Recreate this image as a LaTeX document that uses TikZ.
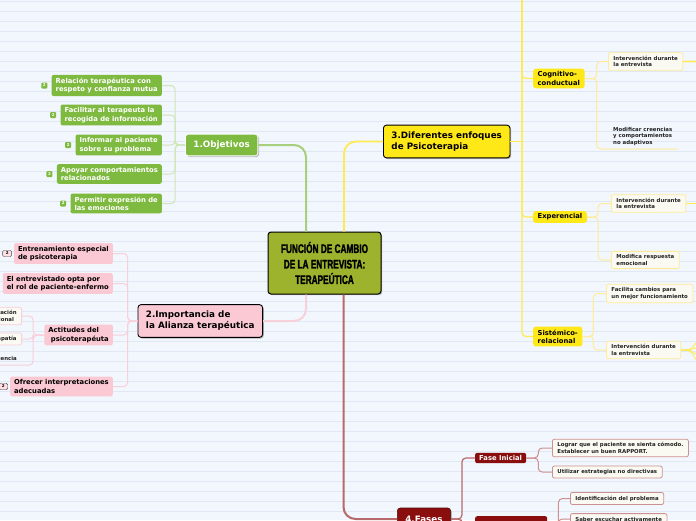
\documentclass[tikz,border=0pt]{standalone}
\usepackage{fontspec}
\setmainfont{DejaVu Sans}
\newfontfamily\rootfont[FakeStretch=0.66,FakeBold=1.6]{Liberation Sans}
\usetikzlibrary{positioning,shadows}
\definecolor{paper}{HTML}{F2F6FD}
\definecolor{ruling}{HTML}{E2E8F3}
\definecolor{rootcol}{HTML}{9DB32E}
\definecolor{grn}{HTML}{7EB940}
\definecolor{grnline}{HTML}{A7CF7C}
\definecolor{grnthin}{HTML}{CFE6B6}
\definecolor{pnk}{HTML}{FBC9D4}
\definecolor{pnkline}{HTML}{F8D0DA}
\definecolor{ylw}{HTML}{FFE817}
\definecolor{ylwline}{HTML}{FFEB50}
\definecolor{ylwthin}{HTML}{FFEC98}
\definecolor{red}{HTML}{8A0E0E}
\definecolor{redline}{HTML}{B86A6A}
\definecolor{redthin}{HTML}{CC9090}
\definecolor{leaffill}{HTML}{FAFAF3}
\definecolor{ink}{HTML}{222222}
\newcommand\fsz[2]{\fontsize{#1}{#2}\selectfont\bfseries}
\begin{document}
\begin{tikzpicture}[x=1pt,y=-1pt,
  every node/.style={inner sep=0pt},
  shade/.style={drop shadow={shadow xshift=1.2pt,shadow yshift=-1.2pt,opacity=0.45,fill=black!60}},
  rootbox/.style={draw=black,line width=1pt,fill=rootcol,rounded corners=3pt,align=center,
    minimum width=113pt,minimum height=62pt,font=\rootfont\fontsize{12.5}{15.5}\selectfont\bfseries,shade},
  topic/.style={rounded corners=3pt,align=left,inner xsep=8pt,inner ysep=6.6pt,font=\fsz{8.8}{11}},
  sub/.style={rounded corners=2pt,align=left,inner xsep=4pt,inner ysep=3pt,font=\fsz{6.8}{8.3}},
  leaf/.style={rounded corners=2pt,align=left,inner xsep=5pt,inner ysep=3.3pt,font=\fsz{5.4}{6.5},text=ink},
  gbadge/.style={fill=grn,rounded corners=1pt,text=white,font=\fsz{4}{4},minimum width=6pt,minimum height=6pt},
  pbadge/.style={fill=pnk!60!white,draw=black!70,line width=0.4pt,rounded corners=1.5pt,text=black,
    font=\fsz{4}{4},minimum width=9pt,minimum height=6.5pt},
  gmain/.style={grnline,line width=2pt,rounded corners=12pt},
  gthin/.style={grnthin,line width=1pt,rounded corners=4pt},
  pmain/.style={pnkline,line width=2pt,rounded corners=12pt},
  pthin/.style={pnkline,line width=1pt,rounded corners=4pt},
  ymain/.style={ylwline,line width=1.8pt,rounded corners=12pt},
  ymid/.style={ylwline,line width=1.2pt,rounded corners=4pt},
  ythin/.style={ylwthin,line width=1pt,rounded corners=4pt},
  rmain/.style={redline,line width=2pt,rounded corners=12pt},
  rthin/.style={redthin,line width=1pt,rounded corners=4pt}
]
\clip (0,0) rectangle (696,520);
\fill[paper] (0,0) rectangle (696,520);
\foreach \ly in {1.7,11.7,...,521.7}
  \draw[ruling,line width=0.6pt] (0,\ly) -- (696,\ly);

\node[rootbox] (root) at (324.5,263) {FUNCIÓN DE CAMBIO\\DE LA ENTREVISTA:\\TERAPEÚTICA};

\node[topic,fill=grn,text=white,draw=white,line width=0.8pt,shade,anchor=west] (obj) at (185,145) {1.Objetivos};
\node[sub,fill=grn,text=white,anchor=east] (c1) at (162,85.5) {Relación terapéutica con\\respeto y confianza mutua};
\node[sub,fill=grn,text=white,anchor=east] (c2) at (162,115) {Facilitar al terapeuta la\\recogida de información};
\node[sub,fill=grn,text=white,anchor=east] (c3) at (162,145) {Informar al paciente\\sobre su problema};
\node[sub,fill=grn,text=white,anchor=east] (c4) at (162,174) {Apoyar comportamientos\\relacionados};
\node[sub,fill=grn,text=white,anchor=east] (c5) at (162,203.5) {Permitir expresión de\\las emociones};
\foreach \c in {c1,c2,c3,c4,c5}
  \node[gbadge,left=4pt of \c] {2};

\node[topic,fill=pnk,draw=black,line width=0.9pt,shade,anchor=east] (ali) at (263,321) {2.Importancia de\\la Alianza terapéutica};
\node[sub,fill=pnk,anchor=east] (p1) at (113,253.5) {Entrenamiento especial\\de psicoterapia};
\node[sub,fill=pnk,anchor=east] (p2) at (113,283.5) {El entrevistado opta por\\el rol de paciente-enfermo};
\node[sub,fill=pnk,anchor=east] (p3) at (113,335) {Actitudes del\\\hspace{2.5pt}psicoterapéuta};
\node[sub,fill=pnk,anchor=east] (p4) at (113,386.5) {Ofrecer interpretaciones\\adecuadas};
\node[pbadge,left=2pt of p1] {2};
\node[pbadge,left=2pt of p4] {2};
\node[leaf,fill=leaffill,draw=pnkline,line width=0.8pt,anchor=east] (a1) at (22,316) {Consideración\\incondicional};
\node[leaf,fill=leaffill,draw=pnkline,line width=0.8pt,anchor=east] (a2) at (22,339) {Empatía};
\node[leaf,anchor=east] (a3) at (22,359) {Congruencia};

\node[topic,fill=ylw,draw=black,line width=0.9pt,shade,anchor=west] (enf) at (383,141.5) {3.Diferentes enfoques\\de Psicoterapia};
\node[sub,fill=ylw,rounded corners=2.5pt,inner xsep=4.5pt,anchor=west] (cog) at (533,78.5) {Cognitivo-\\conductual};
\node[sub,fill=ylw,rounded corners=2.5pt,inner xsep=4.5pt,inner ysep=2.6pt,anchor=west] (exp) at (533,217) {Experencial};
\node[sub,fill=ylw,rounded corners=2.5pt,inner xsep=4.5pt,anchor=west] (sis) at (533,336.5) {Sistémico-\\relacional};
\node[leaf,fill=leaffill,draw=ylwthin,line width=0.8pt,anchor=west] (y1) at (608,61.5) {Intervención durante\\la entrevista};
\node[leaf,anchor=south west] (y2) at (608,149) {Modificar creencias\\y comportamientos\\no adaptivos};
\node[leaf,fill=leaffill,draw=ylwthin,line width=0.8pt,anchor=west] (y3) at (611,203.5) {Intervención durante\\la entrevista};
\node[leaf,fill=leaffill,draw=ylwthin,line width=0.8pt,anchor=west] (y4) at (611,260) {Modifica respuesta\\emocional};
\node[leaf,fill=leaffill,draw=ylwthin,line width=0.8pt,anchor=west] (y5) at (606,293.5) {Facilita cambios para\\un mejor funcionamiento};
\node[leaf,fill=leaffill,draw=ylwthin,line width=0.8pt,anchor=west] (y6) at (606,350) {Intervención durante\\la entrevista};

\node[topic,fill=red,text=white,draw=red!60!black,line width=0.6pt,shade,minimum height=22pt,anchor=west] (fas) at (397,519) {4.Fases};
\node[sub,fill=red,text=white,inner ysep=2.6pt,anchor=west] (fi) at (475,458) {Fase Inicial};
\node[sub,fill=red,minimum width=72pt,minimum height=20pt,anchor=north west] (f2) at (475,516) {};
\node[leaf,fill=leaffill,draw=redthin,line width=0.8pt,anchor=west] (r1) at (552,448) {Lograr que el paciente se sienta cómodo.\\Establecer un buen RAPPORT.};
\node[leaf,fill=leaffill,draw=redthin,line width=0.8pt,anchor=west] (r2) at (552,472) {Utilizar estrategias no directivas};
\node[leaf,fill=leaffill,draw=redthin,line width=0.8pt,anchor=west] (r3) at (570,498.5) {Identificación del problema};
\node[leaf,fill=leaffill,draw=redthin,line width=0.8pt,anchor=west] (r4) at (570,519) {Saber escuchar activamente};

\coordinate (ytop) at (522,-10);
\coordinate (o1) at (699,40);
\coordinate (o2) at (699,84);
\coordinate (o3) at (700,203.5);
\coordinate (o4) at (700,338);
\coordinate (o5) at (700,346);
\coordinate (o6) at (700,357);
\coordinate (o7) at (700,366);

\draw[gmain] ([xshift=-18.5pt]root.north) |- (obj.east);
\draw[pmain] ([xshift=-18.5pt]root.south) |- (ali.east);
\draw[ymain] ([xshift=19.5pt]root.north) |- (enf.west);
\draw[rmain] ([xshift=19pt]root.south) |- (fas.west);

\foreach \c in {c1,c2,c3,c4,c5}
  \draw[gthin] (obj.west) -- ++(-10,0) |- (\c.east);
\foreach \c in {p1,p2,p3,p4}
  \draw[pthin] (ali.west) -- ++(-10,0) |- (\c.east);
\draw[pthin] (p3.west) -- ++(-11,0) |- (a1.east);
\draw[pthin] (p3.west) -- ++(-11,0) |- (a2.east);
\draw[pthin] (p3.west) -- ++(-11,0) |- (a3.south west);

\draw[ymid] (enf.east) -- (enf.east -| ytop);
\draw[ymid] (ytop) |- (cog.west);
\draw[ymid] (ytop) |- (exp.west);
\draw[ymid] (ytop) |- (sis.west);
\draw[ythin] (cog.east) -- ++(12,0) |- (y1.west);
\draw[ythin] (cog.east) -- ++(12,0) |- (y2.south east);
\draw[ythin] (exp.east) -- ++(11,0) |- (y3.west);
\draw[ythin] (exp.east) -- ++(11,0) |- (y4.west);
\draw[ythin] (sis.east) -- ++(11,0) |- (y5.west);
\draw[ythin] (sis.east) -- ++(11,0) |- (y6.west);
\draw[ymid] (y1.east) -| (o1);
\draw[ymid] (y1.east) -| (o2);
\draw[ymid,line width=1.8pt] (y3.east) -- (o3);
\foreach \o in {o4,o5,o6,o7}
  \draw[ymid,line width=0.8pt] (y6.east) -- ++(9,0) -- (\o);

\draw[rthin,redline,line width=1.2pt] (fas.east) -- ++(11,0) |- (fi.west);
\draw[rthin,redline,line width=1.2pt] (fas.east) -- ++(11,0) |- (f2.west);
\draw[rthin] (fi.east) -- ++(12,0) |- (r1.west);
\draw[rthin] (fi.east) -- ++(12,0) |- (r2.west);
\draw[rthin] (f2.east) -- ++(11,0) |- (r3.west);
\draw[rthin] (f2.east) -- ++(11,0) |- (r4.west);
\end{tikzpicture}
\end{document}
